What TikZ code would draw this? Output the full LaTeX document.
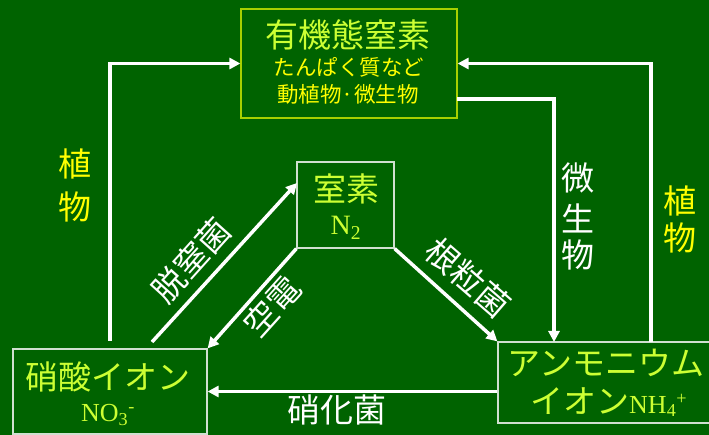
\documentclass[tikz,border=0pt]{standalone}
\usepackage{fontspec}
\newfontfamily\jp{Noto Sans CJK JP}
\newfontfamily\tm{Liberation Serif}
\usetikzlibrary{arrows.meta,calc}
\definecolor{bg}{HTML}{006300}
\definecolor{lime}{HTML}{CCFF33}
\definecolor{yel}{HTML}{FFFF00}
\definecolor{tborder}{HTML}{A8D000}
\definecolor{gborder}{HTML}{D0E0D0}
\tikzset{
  box/.style={draw=gborder, line width=1.2pt, inner sep=0pt},
  arr/.style={draw=white, line width=3.5pt, -{Triangle[length=11pt,width=11pt]}},
  big/.style={font=\jp\fontsize{33}{33}\selectfont, inner sep=0pt},
  wlab/.style={big, text=white},
  ylab/.style={big, text=yel},
}
\begin{document}
\begin{tikzpicture}[x=1pt,y=-1pt]
\fill[bg] (0,0) rectangle (709,435);
\useasboundingbox (0,0) rectangle (709,435);
% boxes
\node[box, draw=tborder, minimum width=216pt, minimum height=109pt] (tbox) at (349,63.5) {};
\node[box, minimum width=97pt, minimum height=86pt] (cbox) at (345.5,205) {};
\node[box, minimum width=194pt, minimum height=85pt] (lbox) at (110,391.5) {};
\node[box, minimum width=222pt, minimum height=81pt] (rbox) at (609,382.5) {};
% box texts
\node[big, text=lime] (t1) at (348,35) {有機態窒素};
\node[inner sep=0pt, text=yel, font=\jp\fontsize{21.5}{21.5}\selectfont] (t2) at (349,67) {たんぱく質など};
\node[inner sep=0pt, text=yel, font=\jp\fontsize{21.5}{21.5}\selectfont] (t3) at (348,94) {動植物·微生物};
\node[big, text=lime] (c1) at (346,189) {室素};
\node[inner sep=0pt, text=lime, font=\tm\fontsize{28}{28}\selectfont] (c2) at (346,228) {N\textsubscript{2}};
\node[big, text=lime] (l1) at (108,377) {硝酸イオン};
\node[inner sep=0pt, text=lime, font=\tm\fontsize{26}{26}\selectfont] (l2) at (108,415) {NO\textsubscript{3}\textsuperscript{-}};
\node[big, text=lime] (r1) at (606,363) {アンモニウム};
\node[big, text=lime, anchor=west] (r2) at (530,402) {イオン{\tm\fontsize{26}{26}\selectfont NH\textsubscript{4}\textsuperscript{+}}};
% coordinates
\coordinate (a1) at (110,341);
\coordinate (b1) at (651,342);
\coordinate (m1) at (457,99);
\coordinate (m2) at (554,342);
\coordinate (d1) at (152,342);
\coordinate (d2) at (297,183);
% connectors
\draw[arr] (a1) |- (tbox.west);
\draw[arr] (b1) |- (tbox.east);
\draw[arr] (m1) -| (m2);
\draw[arr] (d1) -- (d2);
\draw[arr] (cbox.south west) -- (lbox.north east);
\draw[arr] (cbox.south east) -- (rbox.north west);
\draw[arr] (rbox.west |- lbox.east) -- (lbox.east);
% connector labels
\node[ylab] (p1) at (75,164) {植};
\node[ylab] (p2) at (75,207) {物};
\node[ylab] (p3) at (680,201) {植};
\node[ylab] (p4) at (680,238) {物};
\node[wlab] (s1) at (578,178) {微};
\node[wlab] (s2) at (578,218) {生};
\node[wlab] (s3) at (578,255) {物};
\node[wlab, rotate=48] (n1) at (191,260) {脱窒菌};
\node[wlab, rotate=48] (n2) at (272,306) {空電};
\node[wlab, rotate=-41] (n3) at (468,278) {根粒菌};
\node[wlab] (n4) at (337,410) {硝化菌};
\end{tikzpicture}
\end{document}
